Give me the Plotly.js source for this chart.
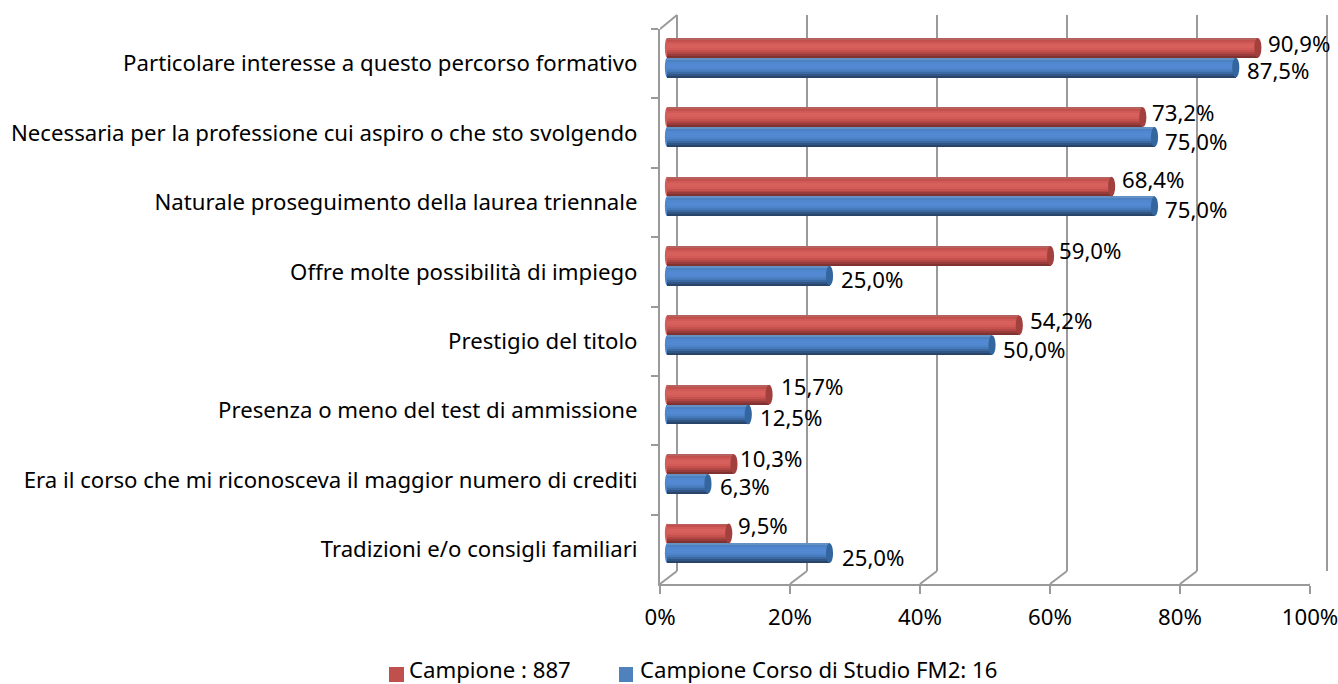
<!DOCTYPE html>
<html><head><meta charset="utf-8">
<script src="https://cdn.plot.ly/plotly-3.0.1.min.js"></script>
<style>html,body{margin:0;padding:0;background:#fff}</style></head>
<body><div id="chart" style="width:1338px;height:684px"></div>
<script>
const categories = ["Particolare interesse a questo percorso formativo","Necessaria per la professione cui aspiro o che sto svolgendo","Naturale proseguimento della laurea triennale","Offre molte possibilità di impiego","Prestigio del titolo","Presenza o meno del test di ammissione","Era il corso che mi riconosceva il maggior numero di crediti","Tradizioni e/o consigli familiari"];
const campione = [90.9,73.2,68.4,59.0,54.2,15.7,10.3,9.5];
const corso = [87.5,75.0,75.0,25.0,50.0,12.5,6.3,25.0];
const seriesNames = ["Campione : 887","Campione Corso di Studio FM2: 16"];
const xTicks = [0,20,40,60,80,100];

const W=1338,H=684;
const FS=22.2;
const px=(a,b)=>[a/W,b/W];
const py=(top,bot)=>[1-bot/H,1-top/H];
const bandPx=(584-29)/8, barH=19.8/bandPx;
const redGrad=["#b5625f","#c4504d","#d05a57","#d75f5c","#d75f5c","#d25a57","#c5524f","#b24744","#973c3a","#7f3230"];
const blueGrad=["#6590c4","#4c82c4","#4f88cf","#5289d2","#5289d2","#4e84ca","#467abb","#3b69a2","#315685","#284569"];
const fmt=v=>v.toFixed(1).replace('.',',')+'%';
const common={type:'bar',orientation:'h',xaxis:'x2',yaxis:'y2',hoverinfo:'skip',showlegend:false};
const traces=[];
traces.push({type:'scatter',x:[0],y:[0],xaxis:'x',yaxis:'y',mode:'none',showlegend:false,hoverinfo:'skip'});
traces.push({...common,y:categories,x:campione,name:seriesNames[0],width:barH,offset:-barH,marker:{color:'#C0504D',line:{width:0}}});
traces.push({...common,y:categories,x:corso,name:seriesNames[1],width:barH,offset:0,marker:{color:'#4F81BD',line:{width:0}}});
const strip=barH/redGrad.length;
redGrad.forEach((c,i)=>traces.push({...common,y:categories,x:campione,width:strip*1.05,offset:-barH+i*strip,marker:{color:c,line:{width:0}}}));
blueGrad.forEach((c,i)=>traces.push({...common,y:categories,x:corso,width:strip*1.05,offset:i*strip,marker:{color:c,line:{width:0}}}));
traces.push({type:'bar',orientation:'h',y:categories,x:campione,xaxis:'x3',yaxis:'y3',showlegend:false,hoverinfo:'skip',marker:{opacity:0}});

const gray='#9a9a9a';
const shapes=[];
const rx=0.55, rxLeft=0.33;
categories.forEach((c,i)=>{
  [[campione[i],-barH,0,'#d0605d','#a2403d'],[corso[i],0,barH,'#4f86cc','#33669f']].forEach(([v,a,b,cl,ce])=>{
    shapes.push({type:'circle',xref:'x2',yref:'y2',x0:-rxLeft,x1:rxLeft,y0:i+a,y1:i+b,fillcolor:cl,line:{width:0},layer:'below'});
    shapes.push({type:'circle',xref:'x2',yref:'y2',x0:v-rx,x1:v+rx,y0:i+a,y1:i+b,fillcolor:ce,line:{width:0},layer:'above'});
  });
});
xTicks.forEach(t=>{
  shapes.push({type:'line',xref:'x3',xsizemode:'pixel',xanchor:t,x0:0,x1:17,yref:'paper',ysizemode:'pixel',yanchor:1-584/H,y0:0,y1:13,line:{color:gray,width:2},layer:'below'});
});
shapes.push({type:'line',xref:'x3',xsizemode:'pixel',xanchor:0,x0:0,x1:17,yref:'paper',ysizemode:'pixel',yanchor:1-29/H,y0:0,y1:14,line:{color:gray,width:2},layer:'below'});
shapes.push({type:'rect',xref:'paper',yref:'paper',x0:389/W,x1:404/W,y0:1-682/H,y1:1-667/H,fillcolor:'#C0504D',line:{width:0}});
shapes.push({type:'rect',xref:'paper',yref:'paper',x0:619/W,x1:633/W,y0:1-682/H,y1:1-667/H,fillcolor:'#4F81BD',line:{width:0}});

const xShiftR=[8,7,8,6.5,9,10,4,7];
const xShiftB=[9,8.5,8.5,9.5,9,10,10,10.5];
const yShiftR=[14,15,16.5,15,15,18,15,17.5];
const yShiftB=[-13,-14,-13.5,-14,-14,-13,-13,-14.5];
const ann=[];
categories.forEach((c,i)=>{
  ann.push({xref:'x2',yref:'y2',x:campione[i],y:i,text:fmt(campione[i]),showarrow:false,xanchor:'left',yanchor:'middle',xshift:xShiftR[i],yshift:yShiftR[i],font:{size:FS}});
  ann.push({xref:'x2',yref:'y2',x:corso[i],y:i,text:fmt(corso[i]),showarrow:false,xanchor:'left',yanchor:'middle',xshift:xShiftB[i],yshift:yShiftB[i],font:{size:FS}});
});
ann.push({xref:'paper',yref:'paper',x:407/W,y:1-669.5/H,text:seriesNames[0],showarrow:false,xanchor:'left',yanchor:'middle',font:{size:FS}});
ann.push({xref:'paper',yref:'paper',x:638/W,y:1-669.5/H,text:seriesNames[1],showarrow:false,xanchor:'left',yanchor:'middle',font:{size:FS}});
const axBase={showline:false,zeroline:false,fixedrange:true};
const layout={
  width:W,height:H,margin:{l:0,r:0,t:0,b:0},autosize:false,paper_bgcolor:'#fff',plot_bgcolor:'rgba(0,0,0,0)',
  font:{family:'"Noto Sans", sans-serif',size:FS,color:'#000'},
  barmode:'overlay',bargap:0,showlegend:false,
  xaxis:{...axBase,domain:px(670.5,1333.5),range:[-1,101],tickvals:xTicks,tickmode:'array',showgrid:true,gridcolor:gray,gridwidth:2,showticklabels:false,ticks:'',anchor:'y'},
  yaxis:{...axBase,domain:py(15,571),range:[0,1],showgrid:false,showticklabels:false,ticks:'',anchor:'x'},
  xaxis2:{...axBase,domain:px(660.5,1323.5),range:[-1,101],showgrid:false,showticklabels:false,ticks:'',anchor:'y2'},
  yaxis2:{...axBase,domain:py(23,578),type:'category',categoryorder:'array',categoryarray:categories,range:[7.5,-0.5],showgrid:false,showticklabels:false,ticks:'',anchor:'x2'},
  xaxis3:{...axBase,domain:px(660,1310),range:[0,100],tickmode:'array',tickvals:xTicks,ticktext:xTicks.map(t=>t+'%'),showgrid:false,showline:true,linecolor:gray,linewidth:2,ticks:'outside',ticklen:8,tickwidth:2,tickcolor:gray,anchor:'y3',side:'bottom',ticklabelstandoff:4,ticklabeloverflow:'allow'},
  yaxis3:{...axBase,domain:py(29,584),type:'category',categoryorder:'array',categoryarray:categories,range:[7.5,-0.5],tickson:'boundaries',showgrid:false,showline:true,linecolor:gray,linewidth:2,ticks:'outside',ticklen:7,tickwidth:2,tickcolor:gray,anchor:'x3',ticklabelstandoff:16},
  shapes:shapes,annotations:ann
};
Plotly.newPlot('chart',traces,layout,{displayModeBar:false,staticPlot:true});
</script></body></html>
